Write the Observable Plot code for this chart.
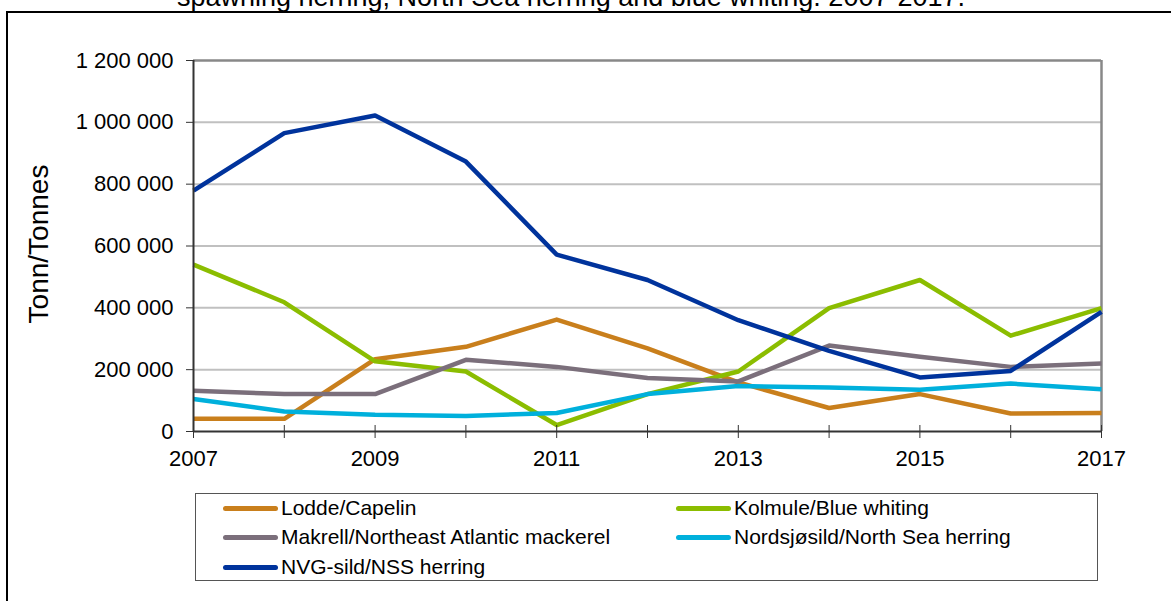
<!DOCTYPE html>
<html>
<head>
<meta charset="utf-8">
<script src="https://cdn.jsdelivr.net/npm/d3@7"></script>
<script src="https://cdn.jsdelivr.net/npm/@observablehq/plot@0.6"></script>
<style>
  html, body { margin: 0; padding: 0; background: #fff; }
  body { font-family: Arial, "Liberation Sans", sans-serif; color: #000; }
  #wrap { position: relative; width: 1171px; height: 601px; overflow: hidden; }
  #title { position: absolute; left: 0; width: 1142px; top: -16px; text-align: center; font-size: 27px; line-height: 27px; white-space: nowrap; }
  #border { position: absolute; left: 6px; top: 11px; width: 1300px; height: 800px; border: 2px solid #000; box-sizing: border-box; z-index: 3; pointer-events: none; }
  #chart { position: absolute; left: 0; top: 0; }
  #ylabel { position: absolute; left: 39px; top: 244px; transform: translate(-50%, -50%) rotate(-90deg); font-size: 28px; white-space: nowrap; }
  #legend { position: absolute; left: 195px; top: 493px; width: 903px; height: 88px; border: 1px solid #555; box-sizing: border-box; }
  .item { position: absolute; display: flex; align-items: center; font-size: 21px; white-space: nowrap; height: 26px; }
  .sw { width: 55px; height: 5px; border-radius: 3px; margin-right: 3px; }
</style>
</head>
<body>
<div id="wrap">
  <div id="chart"></div>
  <div id="title">spawning herring, North Sea herring and blue whiting. 2007-2017.</div>
  <div id="ylabel">Tonn/Tonnes</div>
  <div id="legend"></div>
  <div id="border"></div>
</div>
<script>
const years = [2007, 2008, 2009, 2010, 2011, 2012, 2013, 2014, 2015, 2016, 2017];
const labelYears = [2007, 2009, 2011, 2013, 2015, 2017];
const yTicks = [0, 200000, 400000, 600000, 800000, 1000000, 1200000];

const seriesNames = [
  "Lodde/Capelin",
  "Kolmule/Blue whiting",
  "Makrell/Northeast Atlantic mackerel",
  "Nordsjøsild/North Sea herring",
  "NVG-sild/NSS herring"
];
const lodde   = [41000, 41000, 234000, 274000, 362000, 269000, 159000, 76000, 121000, 58000, 60000];
const kolmule = [540000, 418000, 227000, 194000, 21000, 121000, 194000, 399000, 490000, 310000, 399000];
const makrell = [132000, 121000, 121000, 232000, 209000, 173000, 162000, 278000, 242000, 209000, 220000];
const nordsjo = [105000, 65000, 54000, 50000, 60000, 121000, 147000, 142000, 135000, 155000, 137000];
const nvg     = [779000, 965000, 1022000, 873000, 572000, 490000, 360000, 261000, 175000, 196000, 387000];
const seriesValues = [lodde, kolmule, makrell, nordsjo, nvg];
const colors = ["#c97f1c", "#8bbd00", "#7b6f7b", "#00b0dc", "#00339c"];

const rows = seriesNames.flatMap((name, i) =>
  years.map((yr, j) => ({series: name, year: yr, value: seriesValues[i][j]})));

const fmt = d => d3.format(",")(d).replace(/,/g, " ");

const chart = Plot.plot({
  width: 1171,
  height: 601,
  marginLeft: 193,
  marginRight: 70,
  marginTop: 60,
  marginBottom: 170,
  style: {background: "transparent", fontFamily: 'Arial, "Liberation Sans", sans-serif', color: "#000"},
  x: {domain: [2007, 2017]},
  y: {domain: [0, 1200000]},
  color: {domain: seriesNames, range: colors},
  marks: [
    Plot.gridY(yTicks.filter(v => v > 0 && v < 1200000), {stroke: "#c0c0c0", strokeOpacity: 1, strokeWidth: 2}),
    Plot.ruleY([1200000], {stroke: "#888", strokeWidth: 2.5}),
    Plot.ruleX([2017], {stroke: "#888", strokeWidth: 2.5}),
    Plot.line(rows, {x: "year", y: "value", z: "series", stroke: "series", strokeWidth: 4.5, strokeLinejoin: "round", strokeLinecap: "butt"}),
    Plot.ruleX([2007], {stroke: "#333", strokeWidth: 2}),
    Plot.ruleY([0], {stroke: "#333", strokeWidth: 2}),
    Plot.axisY({ticks: yTicks, tickSize: 7, tickPadding: 13, tickFormat: fmt, fontSize: 22, label: null, stroke: "#333"}),
    Plot.axisX({ticks: years, tickSize: 13, dy: -6, tickFormat: () => "", label: null, stroke: "#333"}),
    Plot.axisX({ticks: labelYears, tickSize: 0, tickPadding: 19, tickFormat: d => String(d), fontSize: 22, label: null})
  ]
});
document.getElementById("chart").appendChild(chart);

// legend
const legend = document.getElementById("legend");
const legendPos = [
  {left: 27, top: 1}, {left: 480, top: 1},
  {left: 27, top: 30}, {left: 480, top: 30},
  {left: 27, top: 60}
];
seriesNames.forEach((name, i) => {
  const item = document.createElement("div");
  item.className = "item";
  item.style.left = legendPos[i].left + "px";
  item.style.top = legendPos[i].top + "px";
  const sw = document.createElement("div");
  sw.className = "sw";
  sw.style.background = colors[i];
  const tx = document.createElement("span");
  tx.textContent = name;
  item.appendChild(sw);
  item.appendChild(tx);
  legend.appendChild(item);
});
</script>
</body>
</html>
